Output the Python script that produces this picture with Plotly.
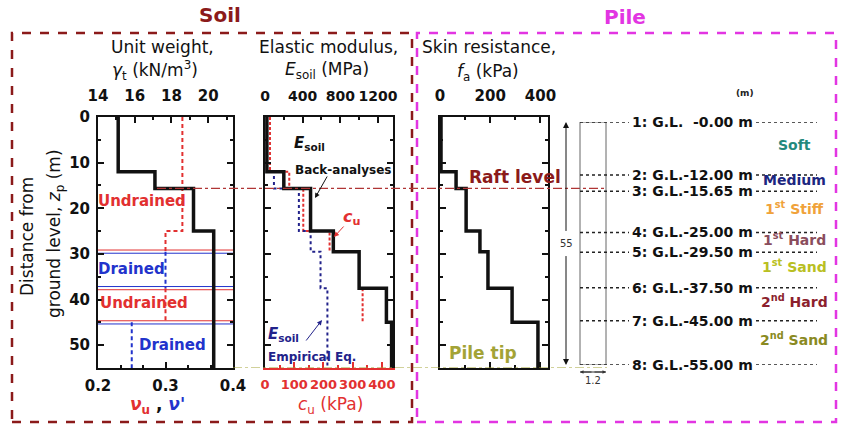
import plotly.graph_objects as go

W, H = 841, 427
def px(x): return x / W
def py(y): return 1 - y / H

FONT = "DejaVu Sans"

# ---------------- data ----------------
layer_top = [0.0, 12.0, 15.65, 25.0, 29.5, 37.5, 45.0]
layer_bot = [12.0, 15.65, 25.0, 29.5, 37.5, 45.0, 55.0]
layer_names = ["Soft", "Medium", "1<sup>st</sup> Stiff", "1<sup>st</sup> Hard",
               "1<sup>st</sup> Sand", "2<sup>nd</sup> Hard", "2<sup>nd</sup> Sand"]
layer_colors = ["#23897c", "#1c2680", "#f0a23a", "#8a4d5c", "#b9bf22", "#8c1f2e", "#8a8a22"]
boundary_depths = [0.0, 12.0, 15.65, 25.0, 29.5, 37.5, 45.0, 55.0]
boundary_labels = ["1: G.L.  -0.00 m", "2: G.L.-12.00 m", "3: G.L.-15.65 m", "4: G.L.-25.00 m",
                   "5: G.L.-29.50 m", "6: G.L.-37.50 m", "7: G.L.-45.00 m", "8: G.L.-55.00 m"]
unit_weight = [15.1, 17.1, 19.2, 20.3, 20.3, 20.3, 20.3]      # kN/m3
poisson = [0.325, 0.325, 0.325, 0.30, 0.30, 0.30, 0.25]       # nu_u / nu'
drained = [False, False, False, False, True, False, True]
E_back = [20, 200, 484, 726, 1000, 1290, 1345]                # MPa
E_emp = [20, 95, 360, 485, 590, 663, 663]                     # MPa
cu = [17, 83, 131, 221, None, 334, None]                      # kPa
fa = [4, 64, 104, 159, 191, 287, 390]                         # kPa
raft_depth = 15.65
pile_tip = 55.0
pile_length_label = "55"
pile_diameter_label = "1.2"

RED = "#e23030"
BLUE = "#2233cc"
NAVY = "#22228a"
DARKRED = "#8b1a1a"
MAGENTA = "#e235e2"
OLIVE = "#a3a336"


def steps(vals, mask=None):
    xs, ys = [], []
    for i, (v, t, b) in enumerate(zip(vals, layer_top, layer_bot)):
        if v is None or (mask is not None and not mask[i]):
            if xs and xs[-1] is not None:
                xs.append(None); ys.append(None)
            continue
        xs += [v, v]; ys += [t, b]
    return xs, ys


fig = go.Figure()

# Panel 1: unit weight (top axis x2) and Poisson ratio (bottom axis x)
x, y = steps(unit_weight)
fig.add_trace(go.Scatter(x=x, y=y, xaxis="x2", yaxis="y", mode="lines",
                         line=dict(color="#111", width=3.5)))
x, y = steps(poisson, [not d for d in drained])
fig.add_trace(go.Scatter(x=x, y=y, xaxis="x", yaxis="y", mode="lines",
                         line=dict(color=RED, width=2, dash="4px,3px")))
x, y = steps(poisson, drained)
fig.add_trace(go.Scatter(x=x, y=y, xaxis="x", yaxis="y", mode="lines",
                         line=dict(color=BLUE, width=2, dash="4px,3px")))
for i in range(1, len(drained)):
    if drained[i] != drained[i - 1]:
        z = layer_top[i]
        ca = BLUE if drained[i - 1] else RED
        cb = BLUE if drained[i] else RED
        fig.add_trace(go.Scatter(x=[0.2, 0.4], y=[z - 0.35, z - 0.35], xaxis="x", yaxis="y",
                                 mode="lines", line=dict(color=ca, width=1)))
        fig.add_trace(go.Scatter(x=[0.2, 0.4], y=[z + 0.35, z + 0.35], xaxis="x", yaxis="y",
                                 mode="lines", line=dict(color=cb, width=1)))

# Panel 2: E_soil (top axis x4), c_u (bottom axis x3)
x, y = steps(E_emp)
fig.add_trace(go.Scatter(x=x, y=y, xaxis="x4", yaxis="y2", mode="lines",
                         line=dict(color=NAVY, width=2, dash="dot")))
x, y = steps(cu)
fig.add_trace(go.Scatter(x=x, y=y, xaxis="x3", yaxis="y2", mode="lines",
                         line=dict(color=RED, width=2, dash="3px,2px")))
x, y = steps(E_back)
fig.add_trace(go.Scatter(x=x, y=y, xaxis="x4", yaxis="y2", mode="lines",
                         line=dict(color="#111", width=3.5)))

# Panel 3: skin resistance
x, y = steps(fa)
fig.add_trace(go.Scatter(x=x, y=y, xaxis="x5", yaxis="y3", mode="lines",
                         line=dict(color="#111", width=3.5)))

# schematic helper axis
fig.add_trace(go.Scatter(x=[0.5] * len(boundary_depths), y=boundary_depths, xaxis="x6", yaxis="y4",
                         mode="markers", marker=dict(opacity=0), hoverinfo="skip"))

tickfont = dict(family=FONT, size=15, color="#111", weight="bold")
base = dict(showline=True, linecolor="#111", linewidth=2, ticks="inside", ticklen=6,
            tickwidth=1.5, tickcolor="#111", showgrid=False, zeroline=False, tickfont=tickfont,
            tickangle=0, automargin=False)
ydom = [py(368), py(117)]

fig.update_layout(
    width=W, height=H, autosize=False,
    margin=dict(l=0, r=0, t=0, b=0, pad=0),
    paper_bgcolor="white", plot_bgcolor="rgba(0,0,0,0)",
    showlegend=False,
    xaxis=dict(base, domain=[px(98), px(233)], range=[0.2, 0.4], anchor="y", side="bottom",
               tickvals=[0.2, 0.3, 0.4], ticktext=["0.2", "0.3", "0.4"], ticklabelstandoff=3,
               minor=dict(ticks="inside", ticklen=3, tick0=0.2, dtick=0.1 / 3, tickcolor="#111")),
    xaxis2=dict(base, domain=[px(98), px(233)], range=[14, 21.35], anchor="y", side="top",
                overlaying="x", tickvals=[14, 16, 18, 20], ticklabelstandoff=8,
                minor=dict(ticks="inside", ticklen=3, dtick=1, tickcolor="#111")),
    yaxis=dict(base, domain=ydom, range=[55, 0], anchor="x", mirror="ticks",
               tickvals=[0, 10, 20, 30, 40, 50], ticklabelstandoff=3,
               minor=dict(ticks="inside", ticklen=3, dtick=5, tickcolor="#111")),
    xaxis3=dict(base, domain=[px(265), px(393)], range=[0, 438], anchor="y2", side="bottom",
                tickvals=[0, 100, 200, 300, 400], ticklabelstandoff=3,
                tickfont=dict(family=FONT, size=13, color=RED, weight="bold"),
                linecolor=RED, tickcolor=RED,
                minor=dict(ticks="inside", ticklen=3, dtick=50, tickcolor=RED)),
    xaxis4=dict(base, domain=[px(265), px(393)], range=[0, 1360], anchor="y2", side="top",
                overlaying="x3", tickvals=[0, 400, 800, 1200], ticklabelstandoff=8,
                tickfont=dict(family=FONT, size=14, color="#111", weight="bold"),
                minor=dict(ticks="inside", ticklen=3, dtick=200, tickcolor="#111")),
    yaxis2=dict(base, domain=ydom, range=[55, 0], anchor="x3", mirror="ticks",
                showticklabels=False, dtick=10,
                minor=dict(ticks="inside", ticklen=3, dtick=5, tickcolor="#111")),
    xaxis5=dict(base, domain=[px(440), px(548)], range=[0, 430], anchor="y3", side="top",
                mirror="ticks", tickvals=[0, 200, 400], ticklabelstandoff=8,
                minor=dict(ticks="inside", ticklen=3, dtick=100, tickcolor="#111")),
    yaxis3=dict(base, domain=ydom, range=[55, 0], anchor="x5", mirror="ticks",
                showticklabels=False, dtick=10,
                minor=dict(ticks="inside", ticklen=3, dtick=5, tickcolor="#111")),
    xaxis6=dict(domain=[px(560), px(620)], range=[0, 1], anchor="y4", visible=False, automargin=False),
    yaxis4=dict(domain=[py(365), py(122)], range=[55, 0], anchor="x6", visible=False, automargin=False),
)

shapes = []
# dashed group boxes
shapes.append(dict(type="rect", xref="paper", yref="paper", x0=px(12), x1=px(412), y0=py(422), y1=py(33),
                   line=dict(color=DARKRED, width=2.5, dash="dash")))
shapes.append(dict(type="rect", xref="paper", yref="paper", x0=px(417), x1=px(836), y0=py(422), y1=py(33),
                   line=dict(color=MAGENTA, width=2.5, dash="dash")))
# raft level and pile tip
shapes.append(dict(type="line", xref="paper", yref="y", x0=px(157), x1=px(607), y0=raft_depth, y1=raft_depth,
                   line=dict(color="#b03535", width=1.2, dash="dashdot")))
shapes.append(dict(type="line", xref="paper", yref="y", x0=px(233), x1=px(607), y0=pile_tip, y1=pile_tip,
                   line=dict(color=OLIVE, width=1.2, dash="dashdot")))
# pile schematic
shapes.append(dict(type="rect", xref="paper", yref="y4", x0=px(580), x1=px(606), y0=0, y1=pile_tip,
                   line=dict(color="#666", width=1)))
for d in boundary_depths:
    shapes.append(dict(type="line", xref="paper", yref="y4", x0=px(580), x1=px(629), y0=d, y1=d,
                       line=dict(color="#222", width=1.5, dash="dot")))
    shapes.append(dict(type="line", xref="paper", yref="y4", x0=px(756), x1=px(817), y0=d, y1=d,
                       line=dict(color="#222", width=1.5, dash="dot")))
shapes.append(dict(type="line", xref="paper", yref="paper", x0=px(580), x1=px(606), y0=py(372), y1=py(372),
                   line=dict(color="#333", width=1)))
fig.update_layout(shapes=shapes)

anns = []
def ann(x, y, text, size=17, color="#111", bold=False, xanchor="center", yanchor="middle",
        textangle=0, xref="paper", yref="paper"):
    anns.append(dict(x=x, y=y, xref=xref, yref=yref, text=text, showarrow=False,
                     xanchor=xanchor, yanchor=yanchor, textangle=textangle,
                     font=dict(family=FONT, size=size, color=color, weight="bold" if bold else "normal")))

def arrow(hx, hy, ax, ay, color="#111", xref="paper", yref="paper", ayref="pixel", width=1, size=1):
    anns.append(dict(x=hx, y=hy, xref=xref, yref=yref, ax=ax, ay=ay, axref="pixel", ayref=ayref,
                     text="", showarrow=True, arrowhead=2, arrowsize=size, arrowwidth=width,
                     arrowcolor=color, standoff=0, startstandoff=0))

# titles
ann(px(220), py(15), "Soil", 20, DARKRED, True)
ann(px(625), py(17), "Pile", 20, MAGENTA, True)
# headers
ann(px(162), py(47), "Unit weight,", 17)
ann(px(155), py(71), "<i>γ</i><sub>t</sub> (kN/m<sup>3</sup>)", 17)
ann(px(328), py(47), "Elastic modulus,", 17)
ann(px(327), py(71), "<i>E</i><sub>soil</sub> (MPa)", 17)
ann(px(420), py(47), "Skin resistance,", 17, xanchor="left")
ann(px(488), py(73), "<i>f</i><sub>a</sub> (kPa)", 17)
# y title
ann(px(27), py(237), "Distance from", 17, textangle=-90)
ann(px(55), py(234), "ground level, <i>z</i><sub>p</sub> (m)", 17, textangle=-90)
# bottom titles
ann(px(157), py(405), '<span style="color:%s"><i>ν</i><sub>u</sub></span> , '
    '<span style="color:%s"><i>ν\'</i></span>' % (RED, BLUE), 17, bold=True)
ann(px(330), py(405), "<i>c</i><sub>u</sub> (kPa)", 17, RED)
# panel 1 labels
ann(0.265, 18.4, "Undrained", 15, RED, True, xref="x", yref="y")
ann(0.25, 33.2, "Drained", 15, BLUE, True, xref="x", yref="y")
ann(0.268, 40.8, "Undrained", 15, RED, True, xref="x", yref="y")
ann(0.311, 50.0, "Drained", 15, BLUE, True, xref="x", yref="y")
# panel 2 labels
ann(px(309), py(144), "<i>E</i><sub>soil</sub>", 15, "#111", True)
ann(px(343), py(170), "Back-analyses", 12, "#111", True)
arrow(px(315), py(198), 13, -23)
ann(px(351), py(217), "<i>c</i><sub>u</sub>", 16, RED, True)
arrow(px(334), py(237), 11, -12, RED)
ann(px(283), py(334), "<i>E</i><sub>soil</sub>", 15, NAVY, True)
ann(px(312), py(357), "Empirical Eq.", 12, NAVY, True)
arrow(px(322), py(320), -17, 22, NAVY)
# panel 3 labels
ann(px(515), py(177), "Raft level", 17, DARKRED, True)
ann(px(483), py(353), "Pile tip", 17, OLIVE, True)
# schematic
ann(px(745), py(93), "(m)", 9, "#222", True)
for d, lab in zip(boundary_depths, boundary_labels):
    ann(px(630), d, lab, 14, "#111", True, xanchor="left", xref="paper", yref="y4")
for t, b, name, col in zip(layer_top, layer_bot, layer_names, layer_colors):
    ann(px(794), (t + b) / 2 - 0.8, name, 14, col, True, xref="paper", yref="y4")
ann(px(566), pile_tip / 2, pile_length_label, 10, "#333", xref="paper", yref="y4")
arrow(px(566), 0, 0, pile_tip / 2 - 2.5, "#111", yref="y4", ayref="y4", size=1.2)
arrow(px(566), pile_tip, 0, pile_tip / 2 + 2.5, "#111", yref="y4", ayref="y4", size=1.2)
arrow(px(580), py(372), 13, 0, "#333", size=0.7)
arrow(px(606), py(372), -13, 0, "#333", size=0.7)
ann(px(593), py(380), pile_diameter_label, 10, "#333")

fig.update_layout(annotations=anns)
fig.write_html("out.html")
